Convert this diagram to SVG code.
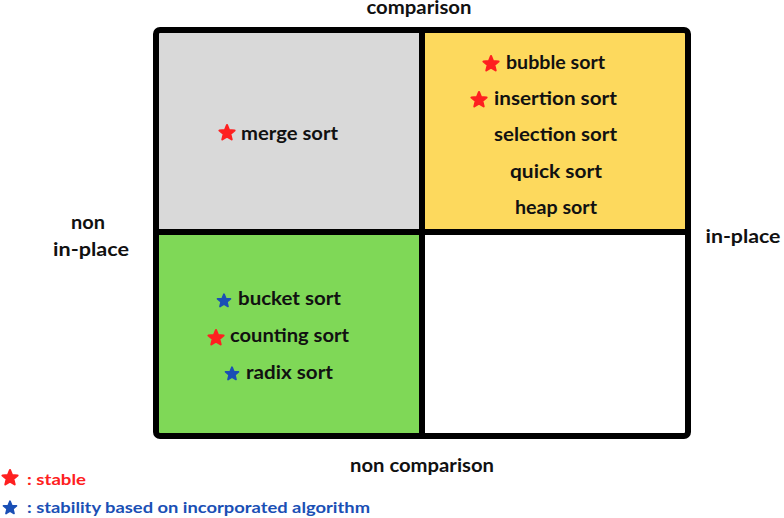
<svg xmlns="http://www.w3.org/2000/svg" width="784" height="518" viewBox="0 0 784 518">
<style>
.t{font-family:"Lato","Liberation Sans",sans-serif;font-weight:bold;font-size:18px;fill:#111}
.lg{font-family:"Lato","Liberation Sans",sans-serif;font-weight:bold;font-size:16px}
.red{fill:#fe2020}
.blue{fill:#1a4fb5}
.sr{fill:#fe2020;stroke:#fe2020;stroke-width:2;stroke-linejoin:round}
.sb{fill:#1a4fb5;stroke:#1a4fb5;stroke-width:2;stroke-linejoin:round}
.grid{fill:none;stroke:#000;stroke-width:6}
</style>
<defs>
<polygon id="star" points="0,-8 2.12,-2.91 7.61,-2.47 3.42,1.11 4.7,6.47 0,3.6 -4.7,6.47 -3.42,1.11 -7.61,-2.47 -2.12,-2.91"/>
</defs>
<rect width="784" height="518" fill="#fff"/>
<g id="quad-comparison-nonin">
<rect x="156" y="30" width="266" height="202" fill="#d9d9d9"/>
<use href="#star" class="sr" x="227" y="133"/>
<text class="t" x="241" y="140" textLength="97" lengthAdjust="spacingAndGlyphs">merge sort</text>
</g>
<g id="quad-comparison-inplace">
<rect x="422" y="30" width="266" height="202" fill="#fdd95d"/>
<use href="#star" class="sr" x="491" y="64"/>
<text class="t" x="506" y="69" textLength="99" lengthAdjust="spacingAndGlyphs">bubble sort</text>
<use href="#star" class="sr" x="479" y="100"/>
<text class="t" x="494" y="105" textLength="123" lengthAdjust="spacingAndGlyphs">insertion sort</text>
<text class="t" x="494" y="141" textLength="123" lengthAdjust="spacingAndGlyphs">selection sort</text>
<text class="t" x="510" y="178" textLength="92" lengthAdjust="spacingAndGlyphs">quick sort</text>
<text class="t" x="515" y="214" textLength="82" lengthAdjust="spacingAndGlyphs">heap sort</text>
</g>
<g id="quad-noncomparison-nonin">
<rect x="156" y="232" width="266" height="204" fill="#7fd857"/>
<use href="#star" class="sb" x="224" y="301" transform="translate(224 301) scale(0.85) translate(-224 -301)"/>
<text class="t" x="238" y="305" textLength="103" lengthAdjust="spacingAndGlyphs">bucket sort</text>
<use href="#star" class="sr" x="216" y="338"/>
<text class="t" x="230" y="342" textLength="119" lengthAdjust="spacingAndGlyphs">counting sort</text>
<use href="#star" class="sb" x="232" y="374" transform="translate(232 374) scale(0.85) translate(-232 -374)"/>
<text class="t" x="246" y="379" textLength="87" lengthAdjust="spacingAndGlyphs">radix sort</text>
</g>
<g id="quad-noncomparison-inplace">
<rect x="422" y="232" width="266" height="204" fill="#fff"/>
</g>
<g id="connectors">
<rect class="grid" x="156" y="30" width="532" height="406" rx="4"/>
<line class="grid" x1="422" y1="30" x2="422" y2="436"/>
<line class="grid" x1="156" y1="232" x2="688" y2="232"/>
</g>
<g id="axis-labels">
<text class="t" x="419" y="14" text-anchor="middle" textLength="105" lengthAdjust="spacingAndGlyphs">comparison</text>
<text class="t" x="422" y="472" text-anchor="middle" textLength="144" lengthAdjust="spacingAndGlyphs">non comparison</text>
<text class="t" x="88" y="229" text-anchor="middle" textLength="34" lengthAdjust="spacingAndGlyphs">non</text>
<text class="t" x="91" y="256" text-anchor="middle" textLength="76" lengthAdjust="spacingAndGlyphs">in-place</text>
<text class="t" x="743" y="243" text-anchor="middle" textLength="75" lengthAdjust="spacingAndGlyphs">in-place</text>
</g>
<g id="legend">
<use href="#star" class="sr" x="10" y="478"/>
<text class="lg red" x="27" y="485" textLength="59" lengthAdjust="spacingAndGlyphs">: stable</text>
<use href="#star" class="sb" x="10" y="508" transform="translate(10 508) scale(0.85) translate(-10 -508)"/>
<text class="lg blue" x="27" y="513" textLength="343" lengthAdjust="spacingAndGlyphs">: stability based on incorporated algorithm</text>
</g>
</svg>
